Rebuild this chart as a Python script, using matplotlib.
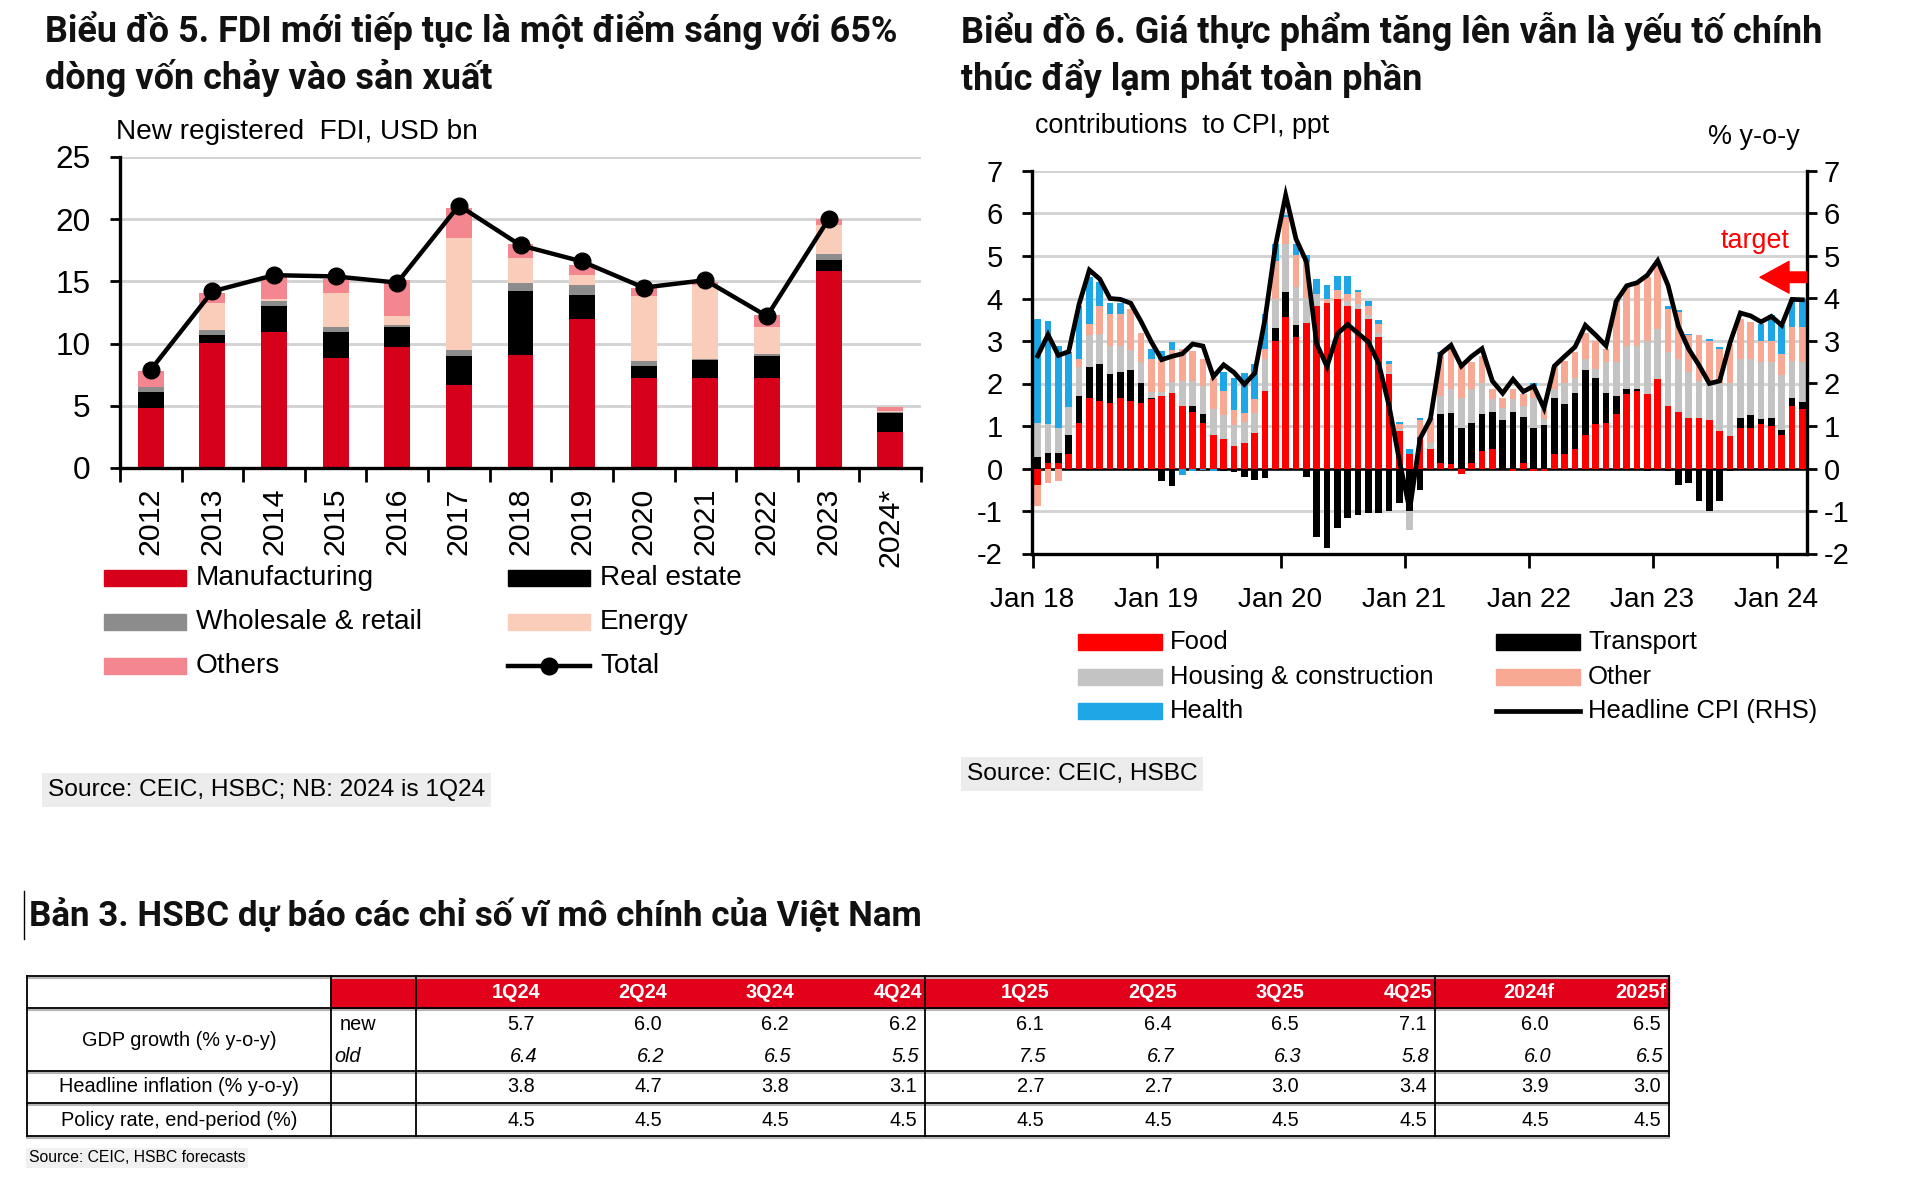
import numpy as np
import matplotlib
matplotlib.use('Agg')
import matplotlib.pyplot as plt
from matplotlib import font_manager
from matplotlib.patches import Rectangle

W, H = 1920, 1192

# ---- data: chart 5, new registered FDI (USD bn) ----
fdi_years = ['2012', '2013', '2014', '2015', '2016', '2017', '2018',
             '2019', '2020', '2021', '2022', '2023', '2024*']
fdi_manufacturing = [4.8, 10.05, 10.95, 8.85, 9.7, 6.7, 9.05, 12.0, 7.2, 7.2, 7.2, 15.8, 2.9]
fdi_real_estate = [1.3, 0.65, 2.05, 2.05, 1.6, 2.3, 5.15, 1.9, 1.0, 1.45, 1.8, 0.9, 1.5]
fdi_wholesale = [0.4, 0.4, 0.4, 0.4, 0.2, 0.5, 0.7, 0.8, 0.4, 0.15, 0.2, 0.5, 0.1]
fdi_energy = [0.0, 2.2, 0.2, 2.8, 0.7, 9.0, 2.0, 0.8, 5.2, 5.9, 2.15, 2.3, 0.1]
fdi_others = [1.3, 0.75, 1.8, 1.1, 2.9, 2.4, 1.1, 0.8, 0.7, 0.25, 0.95, 0.55, 0.3]
fdi_total = [7.9, 14.2, 15.5, 15.4, 14.9, 21.1, 17.9, 16.6, 14.5, 15.1, 12.2, 20.0, np.nan]

# ---- data: chart 6, contributions to CPI (ppt), Jan 2018 - Mar 2024 ----
cpi_year_labels = ['Jan 18', 'Jan 19', 'Jan 20', 'Jan 21', 'Jan 22', 'Jan 23', 'Jan 24']
cpi_food = [-0.38, 0.12, 0.13, 0.33, 1.08, 1.65, 1.59, 1.53, 1.65, 1.58, 1.53, 1.63,
            1.71, 1.78, 1.46, 1.33, 1.08, 0.78, 0.7, 0.53, 0.6, 0.84, 1.83, 2.99,
            3.56, 3.1, 3.42, 3.83, 3.9, 3.99, 3.83, 3.76, 3.52, 3.09, 2.22, 0.88,
            0.35, 0.75, 0.45, 0.13, 0.1, -0.14, 0.13, 0.41, 0.46, 0.0, -0.05, 0.13,
            -0.07, -0.07, 0.35, 0.35, 0.46, 0.78, 1.04, 1.08, 1.28, 1.75, 1.83, 1.76,
            2.1, 1.46, 1.34, 1.2, 1.2, 1.13, 0.88, 0.76, 0.96, 0.96, 1.04, 1.0,
            0.78, 1.46, 1.39]
cpi_transport = [0.27, 0.25, 0.24, 0.45, 0.63, 0.73, 0.87, 0.69, 0.63, 0.74, 0.48, 0.04,
                 -0.3, -0.42, 0.0, 0.14, 0.2, 0.0, -0.05, -0.08, -0.2, -0.28, -0.22, 0.31,
                 0.59, 0.28, -0.2, -1.6, -1.87, -1.4, -1.17, -1.1, -1.05, -1.05, -1.0, -0.8,
                 -1.0, -0.5, 0.0, 1.15, 1.21, 0.96, 0.95, 0.87, 0.88, 1.14, 1.34, 1.09,
                 0.96, 1.02, 1.32, 1.16, 1.31, 1.54, 1.1, 0.69, 0.43, 0.13, 0.05, -0.07,
                 0.0, -0.07, -0.38, -0.35, -0.77, -1.0, -0.77, -0.07, 0.24, 0.29, 0.12, 0.2,
                 0.12, 0.19, 0.18]
cpi_housing = [0.8, 0.67, 0.59, 0.67, 0.69, 0.76, 0.71, 0.67, 0.61, 0.48, 0.49, 0.12,
               0.1, 0.25, 0.6, 0.59, 0.66, 0.61, 0.55, 0.5, 0.5, 0.47, 0.74, 0.7,
               1.14, 0.9, 0.6, 0.28, 0.0, 0.0, 0.1, 0.1, 0.1, 0.1, 0.05, 0.05,
               -0.44, 0.0, 0.15, 0.43, 0.56, 0.71, 0.79, 0.74, 0.29, 0.29, 0.29, 0.25,
               0.71, 0.14, 0.2, 0.51, 0.37, 0.25, 0.2, 0.73, 0.79, 1.01, 1.01, 1.25,
               1.18, 1.27, 1.23, 1.06, 0.86, 0.89, 1.14, 1.25, 1.37, 1.32, 1.34, 1.3,
               1.3, 0.89, 0.93]
cpi_other = [-0.5, -0.34, -0.3, 0.0, 0.17, 0.25, 0.66, 0.75, 0.75, 0.96, 0.7, 0.78,
             0.75, 0.75, 0.75, 0.71, 0.63, 0.75, 0.58, 0.35, 0.2, 0.32, 0.24, 0.88,
             0.63, 0.75, 0.85, 0.0, 0.1, 0.2, 0.18, 0.29, 0.21, 0.21, 0.19, 0.11,
             0.0, 0.4, 0.6, 0.98, 0.98, 0.75, 0.63, 0.63, 0.24, 0.24, 0.24, 0.28,
             0.27, 0.23, 0.51, 0.52, 0.59, 0.63, 0.66, 0.31, 1.41, 1.38, 1.46, 1.49,
             1.58, 1.03, 1.11, 0.87, 1.07, 0.99, 0.79, 0.92, 0.95, 0.87, 0.51, 0.51,
             0.5, 0.78, 0.82]
cpi_health = [2.44, 2.42, 1.93, 1.3, 1.26, 1.11, 0.56, 0.26, 0.26, 0.0, 0.0, 0.24,
              0.2, 0.2, -0.15, -0.05, -0.03, -0.05, 0.43, 0.76, 0.95, 0.83, 0.83, 0.4,
              0.05, 0.25, 0.15, 0.35, 0.32, 0.34, 0.42, 0.05, 0.12, 0.1, 0.08, 0.05,
              0.1, 0.05, 0.0, 0.04, 0.04, 0.0, 0.0, 0.0, 0.0, 0.0, 0.0, 0.0,
              0.07, 0.0, 0.0, 0.0, 0.0, 0.0, 0.0, 0.0, 0.04, 0.0, 0.0, 0.0,
              0.0, 0.07, 0.04, 0.04, 0.0, 0.04, 0.04, 0.0, 0.0, 0.0, 0.39, 0.6,
              0.68, 0.67, 0.67]
cpi_headline = [2.65, 3.15, 2.66, 2.75, 3.86, 4.67, 4.46, 4.0, 3.98, 3.89, 3.46, 2.98,
                2.56, 2.64, 2.70, 2.93, 2.88, 2.16, 2.44, 2.26, 1.98, 2.24, 3.52, 5.23,
                6.43, 5.4, 4.87, 2.93, 2.4, 3.17, 3.39, 3.18, 2.98, 2.47, 1.48, 0.19,
                -0.97, 0.70, 1.16, 2.70, 2.90, 2.41, 2.64, 2.82, 2.06, 1.77, 2.10, 1.81,
                1.94, 1.42, 2.41, 2.64, 2.86, 3.37, 3.14, 2.89, 3.94, 4.30, 4.37, 4.55,
                4.89, 4.31, 3.35, 2.81, 2.43, 2.00, 2.06, 2.96, 3.66, 3.59, 3.45, 3.58,
                3.37, 3.98, 3.97]
cpi_target = 4.5

# ---- data: table 3 ----
table_cols = ['1Q24', '2Q24', '3Q24', '4Q24', '1Q25', '2Q25', '3Q25', '4Q25', '2024f', '2025f']
gdp_new = [5.7, 6.0, 6.2, 6.2, 6.1, 6.4, 6.5, 7.1, 6.0, 6.5]
gdp_old = [6.4, 6.2, 6.5, 5.5, 7.5, 6.7, 6.3, 5.8, 6.0, 6.5]
headline_inflation = [3.8, 4.7, 3.8, 3.1, 2.7, 2.7, 3.0, 3.4, 3.9, 3.0]
policy_rate = [4.5, 4.5, 4.5, 4.5, 4.5, 4.5, 4.5, 4.5, 4.5, 4.5]
row_labels = ['GDP growth (% y-o-y)', 'Headline inflation (% y-o-y)', 'Policy rate, end-period (%)']

# ---- fonts ----
names = {f.name for f in font_manager.fontManager.ttflist}
NARROW = 'Liberation Sans Narrow' if 'Liberation Sans Narrow' in names else 'Liberation Sans'
K = 1.0 if NARROW == 'Liberation Sans Narrow' else 0.84   # shrink sizes if no narrow face
TITLE_FONT = ['Roboto', 'Noto Sans', 'DejaVu Sans']
plt.rcParams['font.family'] = [NARROW, 'DejaVu Sans']
plt.rcParams['axes.unicode_minus'] = False

fig = plt.figure(figsize=(W / 100, H / 100), dpi=100, facecolor='white')
bg = fig.add_axes([0, 0, 1, 1])
bg.set_xlim(0, W)
bg.set_ylim(H, 0)
bg.axis('off')
renderer = fig.canvas.get_renderer()


def px_axes(x0, y0, x1, y1):
    return fig.add_axes([x0 / W, 1 - y1 / H, (x1 - x0) / W, (y1 - y0) / H])


def fit_width(t, target):
    w = t.get_window_extent(renderer).width
    t.set_fontsize(t.get_fontsize() * target / w)
    return t.get_fontsize()


def style_axis(ax, size):
    ax.tick_params(axis='both', labelsize=size, width=2, length=7, color='black')
    for s in ['top', 'right']:
        ax.spines[s].set_visible(False)
    for s in ['left', 'bottom']:
        ax.spines[s].set_linewidth(2.4)


# ---- titles ----
title_kw = dict(fontweight='bold', family=TITLE_FONT, va='center', ha='left', color='#111111')
t = bg.text(45, 31, 'Biểu đồ 5. FDI mới tiếp tục là một điểm sáng với 65%', fontsize=20, **title_kw)
fs = fit_width(t, 849)
bg.text(45, 78, 'dòng vốn chảy vào sản xuất', fontsize=fs, **title_kw)
t = bg.text(961, 31, 'Biểu đồ 6. Giá thực phẩm tăng lên vẫn là yếu tố chính', fontsize=20, **title_kw)
fs = fit_width(t, 860)
bg.text(961, 78, 'thúc đẩy lạm phát toàn phần', fontsize=fs, **title_kw)
t = bg.text(29, 915, 'Bản 3. HSBC dự báo các chỉ số vĩ mô chính của Việt Nam', fontsize=20, **title_kw)
fit_width(t, 892)
bg.plot([24, 24], [891, 939], color='black', lw=1)

# ---- chart 5: FDI ----
ax1 = px_axes(120, 157, 921, 468)
x = np.arange(len(fdi_years))
fdi_series = [fdi_manufacturing, fdi_real_estate, fdi_wholesale, fdi_energy, fdi_others]
fdi_colors = ['#d7001b', '#000000', '#8c8c8c', '#f9cdb9', '#f4868f']
fdi_names = ['Manufacturing', 'Wholesale & retail', 'Others', 'Real estate', 'Energy']
bottom = np.zeros(len(x))
for vals, col in zip(fdi_series, fdi_colors):
    ax1.bar(x, vals, 0.42, bottom=bottom, color=col, zorder=2)
    bottom += np.array(vals)
ax1.plot(x, fdi_total, color='black', lw=3.2, marker='o', ms=12, zorder=3)
ax1.set_xlim(-0.5, len(x) - 0.5)
ax1.set_ylim(0, 25)
ax1.set_yticks(range(0, 26, 5))
ax1.yaxis.grid(True, color='#d2d2d2', lw=2)
ax1.set_axisbelow(True)
style_axis(ax1, 27 * K)
ax1.tick_params(axis='y', pad=14)
ax1.set_xticks(np.arange(-0.5, len(x), 1))
ax1.set_xticklabels([])
ax1.tick_params(axis='x', length=10)
ax1.set_xticks(x, minor=True)
ax1.set_xticklabels(fdi_years, minor=True, rotation=90)
ax1.tick_params(axis='x', which='minor', length=0, pad=14, labelsize=26 * K)
bg.text(116, 132, 'New registered  FDI, USD bn', fontsize=24 * K, va='center', ha='left')

# legend chart 5
leg_pos = [(104, 578), (104, 622), (104, 666), (508, 578), (508, 622)]
leg_colors = ['#d7001b', '#8c8c8c', '#f4868f', '#000000', '#f9cdb9']
for (lx, ly), col, name in zip(leg_pos, leg_colors, fdi_names):
    bg.add_patch(Rectangle((lx, ly - 8), 82, 16, color=col))
    bg.text(lx + 92, ly, name, fontsize=24 * K, va='center', ha='left')
bg.plot([508, 590], [666, 666], color='black', lw=3.2)
bg.plot([549], [666], marker='o', color='black', ms=12)
bg.text(600, 666, 'Total', fontsize=24 * K, va='center', ha='left')
bg.text(48, 790, 'Source: CEIC, HSBC; NB: 2024 is 1Q24', fontsize=21 * K, va='center', ha='left',
        bbox=dict(facecolor='#ececec', edgecolor='none', pad=4))

# ---- chart 6: CPI contributions ----
ax2 = px_axes(1032, 171, 1807, 553.5)
months = np.arange(len(cpi_headline))
cpi_series = [cpi_food, cpi_transport, cpi_housing, cpi_other, cpi_health]
cpi_colors = ['#ff0000', '#000000', '#c3c3c3', '#f7a994', '#1ea6e6']
pos_bottom = np.zeros(len(months))
neg_bottom = np.zeros(len(months))
for vals, col in zip(cpi_series, cpi_colors):
    v = np.array(vals)
    b = np.where(v >= 0, pos_bottom, neg_bottom)
    ax2.bar(months, v, 0.62, bottom=b, color=col, zorder=2)
    pos_bottom += np.clip(v, 0, None)
    neg_bottom += np.clip(v, None, 0)
ax2.axhline(0, color='black', lw=1.8, zorder=1.5)
ax2.set_xlim(-0.55, len(months) - 0.55)
ax2.set_ylim(-2, 7)
ax2.set_yticks(range(-2, 8))
ax2.yaxis.grid(True, color='#d2d2d2', lw=2)
ax2.set_axisbelow(True)
style_axis(ax2, 25 * K)
ax2.tick_params(axis='y', pad=14)
ax2.set_xticks(np.arange(0, len(months), 12) - 0.5)
ax2.set_xticklabels(cpi_year_labels)
ax2.tick_params(axis='x', length=10, pad=14, labelsize=24 * K)

axr = ax2.twinx()
axr.plot(months, cpi_headline, color='black', lw=3.4, zorder=5, solid_joinstyle='miter')
axr.set_ylim(-2, 7)
axr.set_yticks(range(-2, 8))
axr.tick_params(axis='y', labelsize=25 * K, width=2, length=7, pad=5)
for s in ['top', 'left', 'bottom']:
    axr.spines[s].set_visible(False)
axr.spines['right'].set_linewidth(2.4)
axr.text(69.4, 5.36, 'target', color='#ff0000', fontsize=23 * K, ha='center', va='center')
axr.annotate('', xy=(69.9, cpi_target), xytext=(74.4, cpi_target),
             arrowprops=dict(arrowstyle='simple,head_length=0.55,head_width=0.6,tail_width=0.2',
                             color='#ff0000', mutation_scale=38, shrinkA=0, shrinkB=0))

bg.text(1035, 126, 'contributions  to CPI, ppt', fontsize=23 * K, va='center', ha='left')
bg.text(1800, 137, '% y-o-y', fontsize=23 * K, va='center', ha='right')

cpi_names = ['Food', 'Housing & construction', 'Health', 'Transport', 'Other']
cpi_leg_colors = ['#ff0000', '#c3c3c3', '#1ea6e6', '#000000', '#f7a994']
cpi_leg_pos = [(1078, 642), (1078, 677), (1078, 711), (1496, 642), (1496, 677)]
for (lx, ly), col, name in zip(cpi_leg_pos, cpi_leg_colors, cpi_names):
    bg.add_patch(Rectangle((lx, ly - 8), 84, 16, color=col))
    bg.text(lx + 92, ly, name, fontsize=22 * K, va='center', ha='left')
bg.plot([1496, 1580], [711, 711], color='black', lw=3.4)
bg.text(1588, 711, 'Headline CPI (RHS)', fontsize=22 * K, va='center', ha='left')
bg.text(967, 774, 'Source: CEIC, HSBC', fontsize=21 * K, va='center', ha='left',
        bbox=dict(facecolor='#ececec', edgecolor='none', pad=4))

# ---- table 3 ----
col_edges = [416, 543, 670, 797, 925, 1052, 1180, 1307, 1435, 1557, 1669]
row_lines = [976, 1008, 1071, 1103, 1136]
bg.add_patch(Rectangle((331, 976), 1669 - 331, 32, color='#e2001a', zorder=1))
for yy in row_lines:
    bg.plot([27, 1669], [yy + 2, yy + 2], color='#b5b5b5', lw=1.5, zorder=1)
    bg.plot([27, 1669], [yy, yy], color='black', lw=1.3, zorder=2)
for xx in [27, 331, 416, 925, 1435, 1669]:
    bg.plot([xx, xx], [976, 1136], color='black', lw=1.3, zorder=2)

tsize = 17 * K
for i, name in enumerate(table_cols):
    r = col_edges[i + 1]
    bg.text(r - 3, 992, name, color='white', fontweight='bold', fontsize=tsize, ha='right', va='center')
    bg.text(r - 8, 1025, f'{gdp_new[i]:.1f}', fontsize=tsize, ha='right', va='center')
    bg.text(r - 6, 1056, f'{gdp_old[i]:.1f}', fontsize=tsize, ha='right', va='center', style='italic')
    bg.text(r - 8, 1087, f'{headline_inflation[i]:.1f}', fontsize=tsize, ha='right', va='center')
    bg.text(r - 8, 1120, f'{policy_rate[i]:.1f}', fontsize=tsize, ha='right', va='center')
bg.text(340, 1025, 'new', fontsize=tsize, ha='left', va='center')
bg.text(334, 1056, 'old', fontsize=tsize, ha='left', va='center', style='italic')
for label, yy in zip(row_labels, [1040, 1087, 1120]):
    bg.text(179, yy, label, fontsize=tsize, ha='center', va='center')
bg.text(29, 1158, 'Source: CEIC, HSBC forecasts', fontsize=13.5 * K, va='center', ha='left',
        bbox=dict(facecolor='#f0f0f0', edgecolor='none', pad=2))

fig.savefig('out.png', dpi=100, facecolor='white')
